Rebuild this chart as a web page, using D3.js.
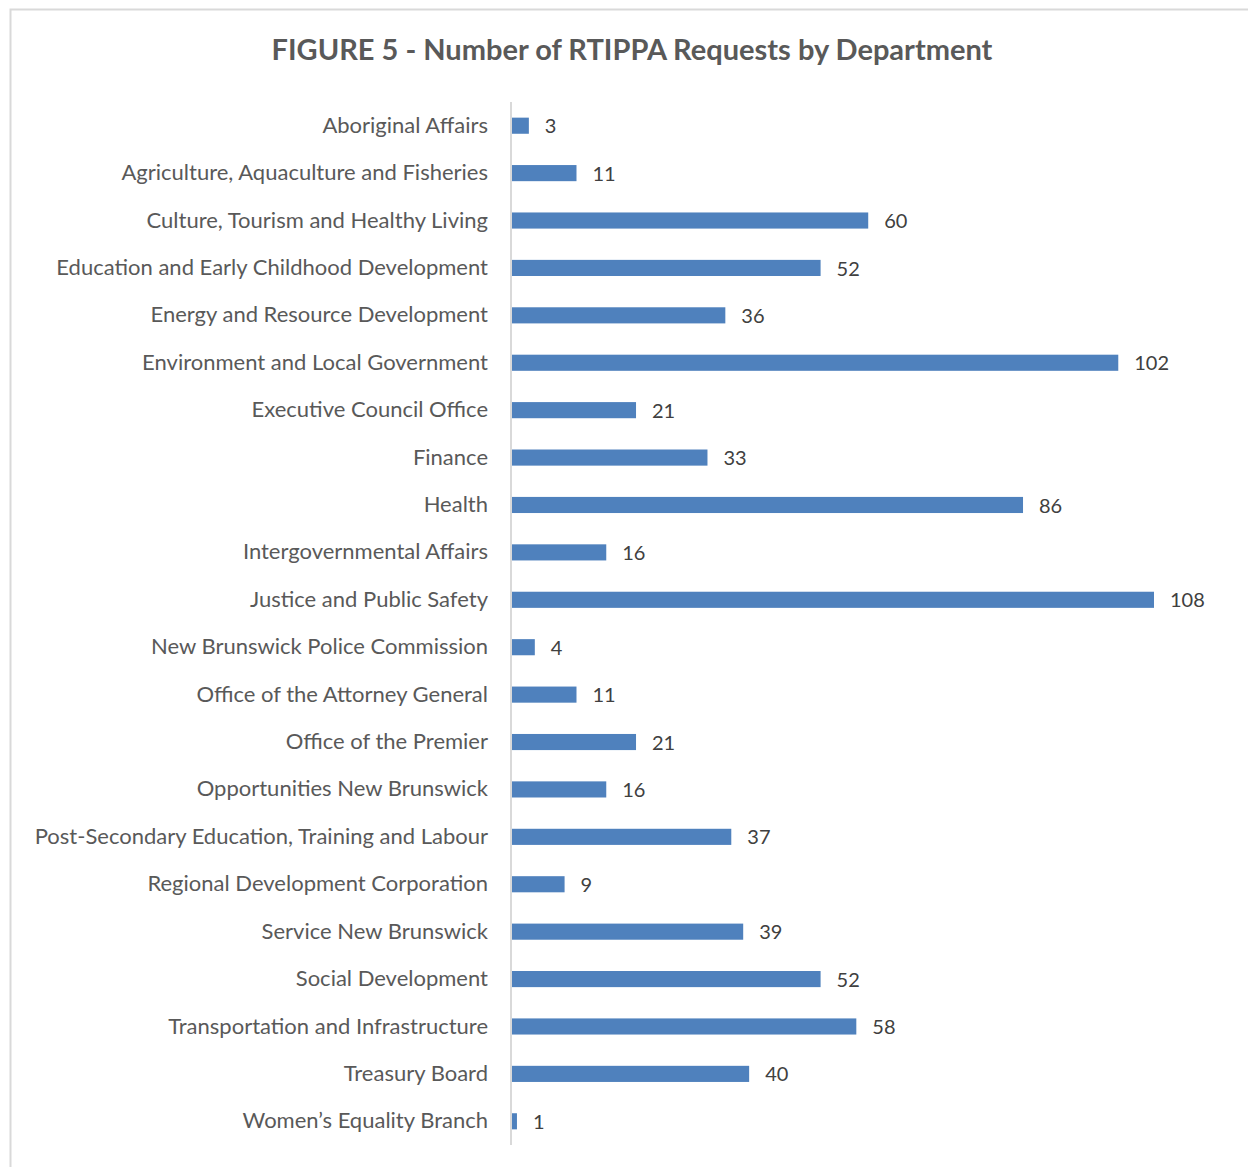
<meta charset="utf-8">
<body style="margin:0;background:#fff">
<script src="https://d3js.org/d3.v7.min.js"></script>
<script>
var departments = [
    "Aboriginal Affairs",
    "Agriculture, Aquaculture and Fisheries",
    "Culture, Tourism and Healthy Living",
    "Education and Early Childhood Development",
    "Energy and Resource Development",
    "Environment and Local Government",
    "Executive Council Office",
    "Finance",
    "Health",
    "Intergovernmental Affairs",
    "Justice and Public Safety",
    "New Brunswick Police Commission",
    "Office of the Attorney General",
    "Office of the Premier",
    "Opportunities New Brunswick",
    "Post-Secondary Education, Training and Labour",
    "Regional Development Corporation",
    "Service New Brunswick",
    "Social Development",
    "Transportation and Infrastructure",
    "Treasury Board",
    "Women\u2019s Equality Branch"
];
var requests = [3, 11, 60, 52, 36, 102, 21, 33, 86, 16, 108, 4, 11, 21, 16, 37, 9, 39, 52, 58, 40, 1];
var chartTitle = "FIGURE 5 - Number of RTIPPA Requests by Department";

var width = 1248, height = 1167;
var margin = {top: 102, left: 511, bottom: 22, right: 94};

var svg = d3.select("body").append("svg")
    .attr("width", width)
    .attr("height", height)
    .style("display", "block");

// chart frame (runs off the right and bottom of the picture)
svg.append("rect")
    .attr("x", 10.5).attr("y", 9.5)
    .attr("width", 1300).attr("height", 1300)
    .attr("fill", "none")
    .attr("stroke", "#d9d9d9")
    .attr("stroke-width", 2);

svg.append("text")
    .attr("x", 632).attr("y", 60)
    .attr("text-anchor", "middle")
    .attr("font-family", "Lato, sans-serif")
    .attr("font-weight", "bold")
    .attr("font-size", 29)
    .attr("fill", "#595959")
    .text(chartTitle);

var x = d3.scaleLinear()
    .domain([0, 108])
    .range([margin.left, 1154]);

var y = d3.scaleBand()
    .domain(departments)
    .range([margin.top, height - margin.bottom])
    .paddingInner(0.66)
    .paddingOuter(0.33);

var data = departments.map(function (d, i) {
    return {name: d, value: requests[i]};
});

svg.selectAll(".bar")
    .data(data)
    .enter()
    .append("rect")
    .attr("class", "bar")
    .attr("x", x(0) + 1)
    .attr("y", function (d) { return y(d.name); })
    .attr("width", function (d) { return x(d.value) - x(0) - 1; })
    .attr("height", y.bandwidth())
    .attr("fill", "#4f81bd");

svg.selectAll(".val")
    .data(data)
    .enter()
    .append("text")
    .attr("class", "val")
    .attr("x", function (d) { return x(d.value) + 16; })
    .attr("y", function (d) { return y(d.name) + y.bandwidth() / 2; })
    .attr("dy", "0.38em")
    .attr("font-family", "Lato, sans-serif")
    .attr("font-size", 20)
    .attr("fill", "#404040")
    .text(function (d) { return d.value; });

var axis = svg.append("g")
    .attr("transform", "translate(" + margin.left + ",0)")
    .call(d3.axisLeft(y).tickSize(0).tickPadding(23));

axis.select(".domain")
    .attr("stroke", "#d9d9d9")
    .attr("stroke-width", 2)
    .attr("d", "M0," + margin.top + "V" + (height - margin.bottom));

axis.selectAll("text")
    .attr("font-family", "Lato, sans-serif")
    .attr("font-size", 22)
    .attr("fill", "#595959");
</script>
</body>
